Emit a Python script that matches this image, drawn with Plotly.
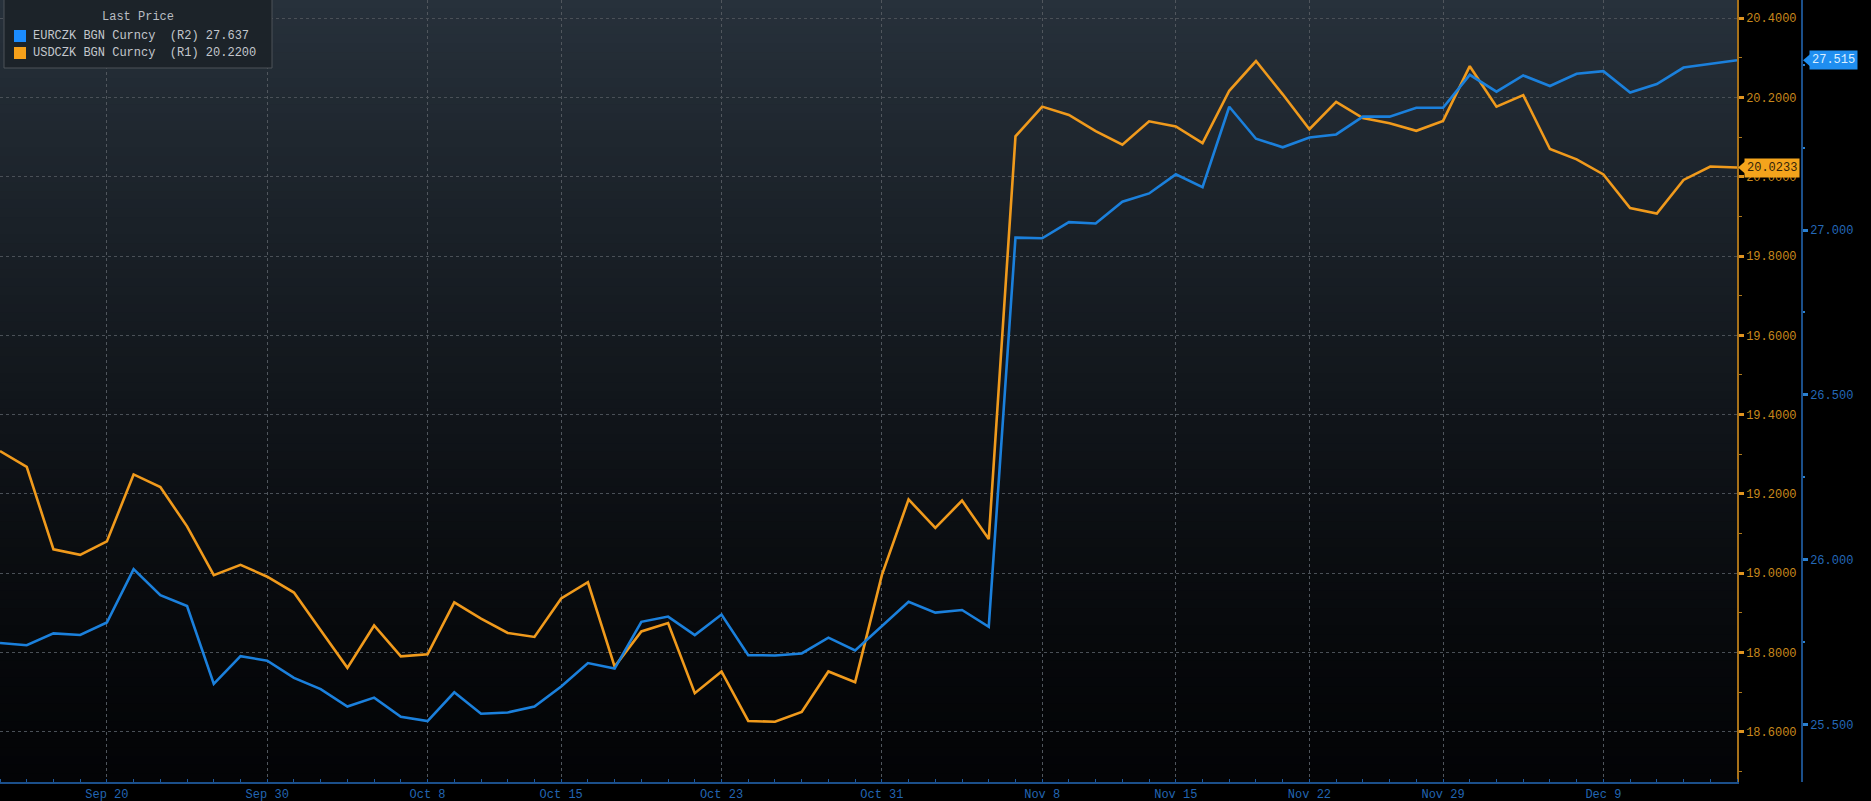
import pandas as pd
import plotly.graph_objects as go

# Trading days (weekdays) covered by the chart
dates = pd.bdate_range("2013-09-16", "2013-12-16").strftime("%Y-%m-%d").tolist()

# USDCZK BGN Curncy (right axis R1)
usdczk = [
    19.308, 19.268, 19.060, 19.046, 19.080, 19.249, 19.217, 19.118, 18.995, 19.021,
    18.991, 18.951, 18.856, 18.761, 18.868, 18.790, 18.795, 18.926, 18.885, 18.849,
    18.839, 18.936, 18.977, 18.764, 18.853, 18.874, 18.697, 18.752, 18.627, 18.625,
    18.650, 18.752, 18.725, 18.995, 19.186, 19.114, 19.183, 19.086, 20.102, 20.177,
    20.156, 20.115, 20.081, 20.140, 20.127, 20.085, 20.217, 20.292, 20.208, 20.120,
    20.189, 20.148, 20.135, 20.116, 20.141, 20.279, 20.177, 20.206, 20.070, 20.044,
    20.006, 19.921, 19.907, 19.992, 20.026, 20.0233,
]

# EURCZK BGN Curncy (right axis R2)
eurczk = [
    25.747, 25.740, 25.776, 25.771, 25.809, 25.971, 25.892, 25.859, 25.623, 25.707,
    25.693, 25.641, 25.607, 25.554, 25.581, 25.523, 25.510, 25.597, 25.532, 25.536,
    25.554, 25.615, 25.686, 25.669, 25.811, 25.827, 25.771, 25.833, 25.710, 25.709,
    25.715, 25.763, 25.724, 25.798, 25.872, 25.839, 25.847, 25.796, 26.977, 26.975,
    27.024, 27.020, 27.086, 27.111, 27.169, 27.130, 27.374, 27.277, 27.251, 27.281,
    27.290, 27.344, 27.344, 27.371, 27.371, 27.471, 27.420, 27.469, 27.437, 27.474,
    27.482, 27.417, 27.443, 27.493, 27.505, 27.515,
]

# Date labels on the time axis
tick_dates = ["2013-09-20", "2013-09-30", "2013-10-08", "2013-10-15", "2013-10-23",
              "2013-10-31", "2013-11-08", "2013-11-15", "2013-11-22", "2013-11-29",
              "2013-12-09"]
tick_labels = ["Sep 20", "Sep 30", "Oct 8", "Oct 15", "Oct 23", "Oct 31",
               "Nov 8", "Nov 15", "Nov 22", "Nov 29", "Dec 9"]

usd_ticks = [18.6, 18.8, 19.0, 19.2, 19.4, 19.6, 19.8, 20.0, 20.2, 20.4]
usd_minor = [18.5, 18.7, 18.9, 19.1, 19.3, 19.5, 19.7, 19.9, 20.1, 20.3]
eur_ticks = [25.5, 26.0, 26.5, 27.0]
eur_minor = [25.75, 26.25, 26.75, 27.25, 27.5]

legend_rows = [
    ("EURCZK BGN Curncy\u00a0\u00a0(R2) 27.637", "#1b8cff"),
    ("USDCZK BGN Curncy\u00a0\u00a0(R1) 20.2200", "#f5a01a"),
]
last_usd_label = "20.0233"
last_eur_label = "27.515"

W, H = 1871, 801
PLOT_H = 782
PLOT_R = 1737
BLUE_AXIS_X = 1802
FONT = "Liberation Mono"

ORANGE = "#f09a1c"
BLUE = "#1b80dc"

xi = list(range(len(dates)))
tick_pos = [dates.index(d) for d in tick_dates]


def px(x):
    return x / W


def py(y):
    return 1 - y / PLOT_H


fig = go.Figure()
fig.add_trace(go.Scatter(x=xi, y=usdczk, mode="lines", yaxis="y",
                         line=dict(color=ORANGE, width=2.6), hoverinfo="skip"))
fig.add_trace(go.Scatter(x=xi, y=eurczk, mode="lines", yaxis="y2",
                         line=dict(color=BLUE, width=2.6), hoverinfo="skip"))

shapes = []
# vertical background gradient of the plotting area
n_bands = 90
top = (39, 49, 59)
bot = (3, 4, 6)
for k in range(n_bands):
    t = (k + 0.5) / n_bands
    f = (1 - t) ** 1.3
    c = tuple(int(round(b + (a - b) * f)) for a, b in zip(top, bot))
    shapes.append(dict(type="rect", xref="x domain", yref="paper",
                       x0=0, x1=1, y0=1 - (k + 1) / n_bands - 0.002, y1=1 - k / n_bands,
                       fillcolor="rgb(%d,%d,%d)" % c, line=dict(width=0), layer="below"))

# "Last Price" legend box
shapes.append(dict(type="rect", xref="paper", yref="paper",
                   x0=px(4), x1=px(272), y0=py(68), y1=py(-1),
                   fillcolor="#1c2329", line=dict(color="#4c5259", width=1), layer="above"))
for i, (_, col) in enumerate(legend_rows):
    yc = 36 + i * 17
    shapes.append(dict(type="rect", xref="paper", yref="paper",
                       x0=px(14), x1=px(26), y0=py(yc + 6), y1=py(yc - 6),
                       fillcolor=col, line=dict(width=0), layer="above"))

# pointers of the last-price tags
shapes.append(dict(type="path", xref="paper", yref="y", xsizemode="pixel", ysizemode="pixel",
                   xanchor=px(PLOT_R + 1), yanchor=usdczk[-1],
                   path="M0,0 L7,6 L7,-6 Z", fillcolor="#f4a41c", line=dict(width=0)))
shapes.append(dict(type="path", xref="paper", yref="y2", xsizemode="pixel", ysizemode="pixel",
                   xanchor=px(BLUE_AXIS_X + 1), yanchor=eurczk[-1],
                   path="M0,0 L7,6 L7,-6 Z", fillcolor="#1f8ef0", line=dict(width=0)))

annotations = [
    dict(text="Last Price", xref="paper", yref="paper", x=px(138), y=py(17),
         xanchor="center", yanchor="middle", showarrow=False,
         font=dict(family=FONT, size=12, color="#b9bdc2")),
]
for i, (txt, _) in enumerate(legend_rows):
    annotations.append(dict(text=txt, xref="paper", yref="paper", x=px(31), y=py(36 + i * 17),
                            xanchor="left", yanchor="middle", showarrow=False,
                            font=dict(family=FONT, size=12, color="#c3c7cc")))

annotations.append(dict(text=last_usd_label, xref="paper", yref="y", x=px(PLOT_R + 7), y=usdczk[-1],
                        xanchor="left", yanchor="middle", showarrow=False, bgcolor="#f4a41c",
                        borderpad=2, font=dict(family=FONT, size=12, color="#35240a")))
annotations.append(dict(text=last_eur_label, xref="paper", yref="y2", x=px(BLUE_AXIS_X + 7), y=eurczk[-1],
                        xanchor="left", yanchor="middle", showarrow=False, bgcolor="#1f8ef0",
                        borderpad=2, font=dict(family=FONT, size=12, color="#dcefff")))

fig.update_layout(
    width=W, height=H,
    margin=dict(l=0, r=0, t=0, b=H - PLOT_H),
    paper_bgcolor="#000000", plot_bgcolor="#000000",
    showlegend=False,
    shapes=shapes, annotations=annotations,
    xaxis=dict(
        domain=[0, PLOT_R / W], range=[0, len(dates) - 1],
        tickmode="array", tickvals=tick_pos, ticktext=tick_labels,
        showgrid=True, gridcolor="#50565d", griddash="dot", gridwidth=1,
        showline=True, linecolor="#1b4f8a", linewidth=2, ticks="",
        tickfont=dict(family=FONT, size=12, color="#2265b2"),
        zeroline=False,
        minor=dict(ticks="inside", ticklen=3, tickwidth=1, tickcolor="#1f5a9c",
                   tick0=0, dtick=1, showgrid=False),
    ),
    yaxis=dict(
        side="right", anchor="x", range=[18.473, 20.446],
        tickmode="array", tickvals=usd_ticks, ticktext=["%.4f" % v for v in usd_ticks],
        showgrid=True, gridcolor="#4a5057", griddash="dot", gridwidth=1,
        showline=True, linecolor="#a8721a", linewidth=1.5,
        ticks="outside", ticklen=5, tickwidth=3, tickcolor="#e09520",
        tickfont=dict(family=FONT, size=12, color="#c8881c"),
        zeroline=False,
        minor=dict(tickmode="array", tickvals=usd_minor, ticks="outside", ticklen=3,
                   tickwidth=1, tickcolor="#b07a1c", showgrid=False),
    ),
    yaxis2=dict(
        overlaying="y", side="right", anchor="free", position=BLUE_AXIS_X / W,
        range=[25.325, 27.698],
        tickmode="array", tickvals=eur_ticks, ticktext=["%.3f" % v for v in eur_ticks],
        showgrid=False, showline=True, linecolor="#1b4f8a", linewidth=1.5,
        ticks="outside", ticklen=5, tickwidth=3, tickcolor="#2a80d0",
        tickfont=dict(family=FONT, size=12, color="#2468b8"),
        zeroline=False,
        minor=dict(tickmode="array", tickvals=eur_minor, ticks="outside", ticklen=2,
                   tickwidth=2, tickcolor="#2a80d0", showgrid=False),
    ),
)

fig.write_html("out.html")
